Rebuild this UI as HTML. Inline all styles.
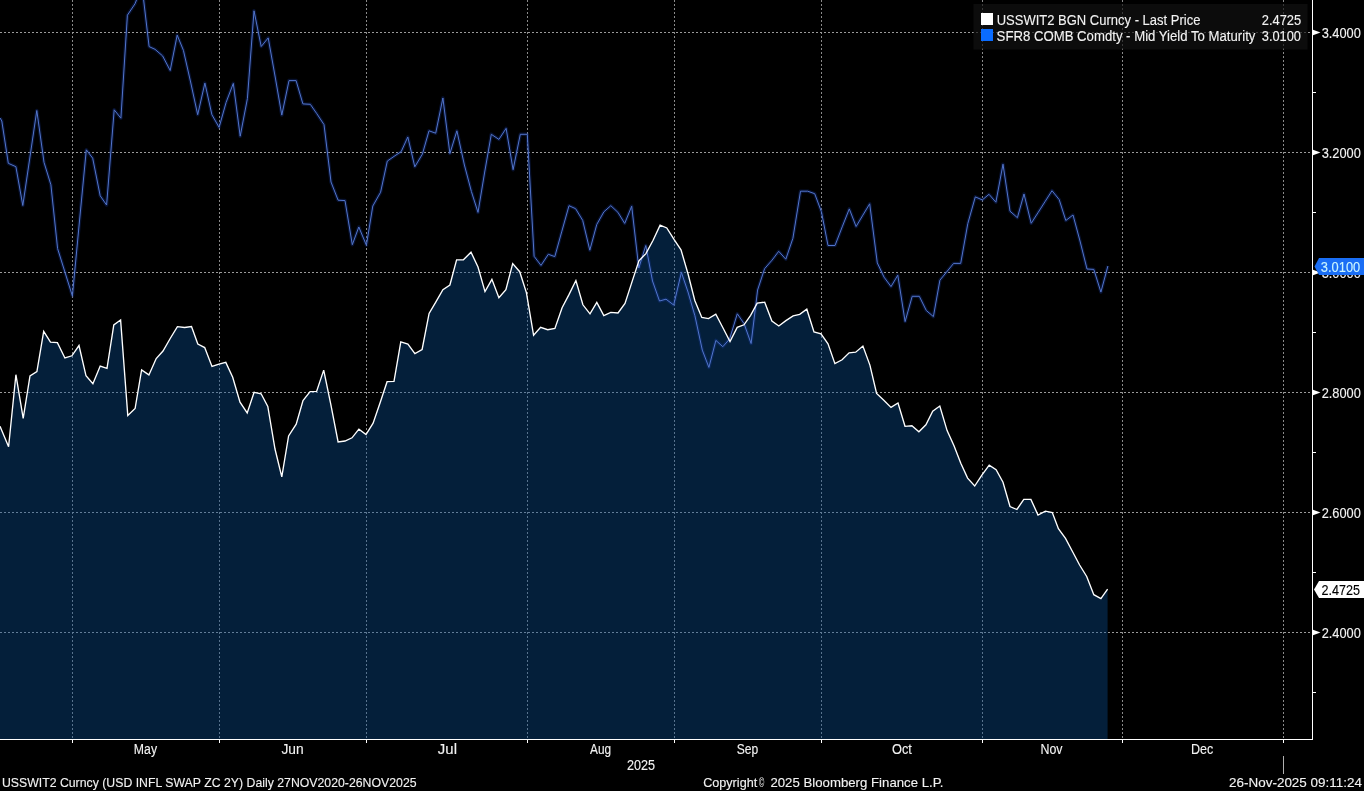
<!DOCTYPE html>
<html><head><meta charset="utf-8"><title>USSWIT2 vs SFR8 chart</title>
<style>
html,body{margin:0;padding:0;background:#000;width:1364px;height:791px;overflow:hidden;font-family:"Liberation Sans",sans-serif;}
svg{display:block;position:absolute;left:0;top:0;will-change:transform;}
</style></head><body>
<svg width="1364" height="791" viewBox="0 0 1364 791"><g stroke-width="1" stroke-dasharray="2 2" shape-rendering="crispEdges"><line x1="72.5" y1="0" x2="72.5" y2="739" stroke="#8a8a8a"/><line x1="219.5" y1="0" x2="219.5" y2="739" stroke="#8a8a8a"/><line x1="366.5" y1="0" x2="366.5" y2="739" stroke="#8a8a8a"/><line x1="527.5" y1="0" x2="527.5" y2="739" stroke="#8a8a8a"/><line x1="674.5" y1="0" x2="674.5" y2="739" stroke="#8a8a8a"/><line x1="821.5" y1="0" x2="821.5" y2="739" stroke="#8a8a8a"/><line x1="982.5" y1="0" x2="982.5" y2="739" stroke="#8a8a8a"/><line x1="1122.5" y1="0" x2="1122.5" y2="739" stroke="#8a8a8a"/><line x1="1283.5" y1="0" x2="1283.5" y2="739" stroke="#8a8a8a"/><line x1="0" y1="32.5" x2="1312" y2="32.5" stroke="#9a9a9a"/><line x1="0" y1="152.5" x2="1312" y2="152.5" stroke="#9a9a9a"/><line x1="0" y1="272.5" x2="1312" y2="272.5" stroke="#9a9a9a"/><line x1="0" y1="392.5" x2="1312" y2="392.5" stroke="#9a9a9a"/><line x1="0" y1="512.5" x2="1312" y2="512.5" stroke="#9a9a9a"/><line x1="0" y1="632.5" x2="1312" y2="632.5" stroke="#9a9a9a"/></g><path d="M0,426.3 L8.6,446.8 L15.9,374.7 L23.2,418.4 L30,375.8 L36.9,371.7 L43.7,331.4 L50.5,342.1 L57.4,342.6 L64.9,358 L71.9,355.8 L79,345.5 L86,375.8 L92.9,383.8 L100.2,366 L107,368.3 L113.8,325 L120.6,320 L127.8,415.5 L135.1,408.5 L141.6,369.9 L148.9,374.9 L156.2,358.5 L163,351 L170.2,338.5 L177.4,326.6 L184.6,327.5 L191.5,326.6 L197.8,344.1 L204.7,347.6 L212,366.5 L219,364.2 L225.8,362.4 L232.7,377.2 L240,402.2 L247.2,412.9 L254.1,392.4 L261.1,393.8 L267.8,406.5 L275,449 L281.8,476.9 L288.6,436 L296.2,424.2 L303,400.6 L310.1,391.6 L316.6,391.4 L323.7,370.1 L330.8,404.3 L338.1,441.9 L345,441 L352,437.8 L358.9,429.2 L366,434.6 L373.1,423.2 L380.1,402.7 L387.1,381.7 L394,381.3 L400.8,341.9 L407.9,344.1 L414.9,353.6 L422.1,349.5 L429.1,313.4 L436.2,301.4 L442.9,289.7 L449.9,285 L456.6,259.8 L463.4,259.8 L471,252.2 L478,267 L485,291.6 L491.9,279.3 L498.9,297.7 L505.9,289.7 L512.7,263.6 L519.7,271.7 L526.4,292.6 L533.6,335.3 L540.6,327.3 L547.7,329.7 L554.9,328.5 L562.1,307.7 L569.1,294.4 L575.9,280.5 L582.9,304.8 L590,313.9 L596.8,302.4 L603.8,315.6 L610.8,312.4 L618,313 L625,303.5 L632,281.9 L638.9,260.8 L645.9,253.6 L653.1,240.3 L660.1,225.2 L666.8,228 L674,239.4 L681,249.8 L688.2,274.5 L694.8,300.5 L701.8,317.5 L708.5,318.6 L715.8,314.2 L722.9,327.8 L730,341.5 L737.2,327.4 L744,324.8 L750.6,315.3 L757.2,303.2 L764.7,302.2 L771.9,321 L778.8,326 L785.9,320.6 L793.1,315.9 L799.7,314.3 L806.8,309.2 L814,332 L821,333.9 L828,343.8 L834.9,363.6 L842.1,359.8 L849.1,352.8 L855.7,352.2 L862.9,346.1 L869.9,365.1 L876.6,393.5 L883.8,400.2 L891,407.4 L898,403 L905,426.3 L911.9,425.8 L918.9,431.8 L925.9,424.8 L932.7,411.2 L939.8,406 L947.1,430.6 L954,445.8 L960.8,463.3 L967.6,478.1 L974.7,486 L981.7,475.4 L989.2,465.1 L996.1,469.6 L1003,482.2 L1010,506.5 L1016.9,509.5 L1023.8,499.4 L1030.9,499.4 L1038,515 L1045.4,511.2 L1052.3,512.6 L1058.4,528.7 L1065.5,538.4 L1072.6,551.7 L1079.6,565 L1086.7,576.5 L1093.8,594.7 L1100.9,598.6 L1107.6,589.2 L1107.6,739 L0,739 Z" fill="rgba(10,80,150,0.39)"/><rect x="973.5" y="4" width="334" height="45.5" fill="rgba(18,18,18,0.68)"/><rect x="981" y="13" width="12" height="12" fill="#ffffff"/><rect x="981" y="29" width="12" height="12" fill="#0a6cff"/><path d="M0,117.9 L1.8,121 L8.3,163.3 L15.9,166.7 L22.8,205.5 L29.8,158 L36.8,110.5 L44,162.3 L50.9,184.8 L57.6,248.6 L64.9,272 L72.4,296 L79.3,223 L86.3,149.8 L92.7,158.2 L100.2,195.8 L106.6,205 L114.2,109.8 L120.9,118.2 L127.4,15.2 L135,3.8 L142,-14 L149.1,46.6 L155,49.3 L162.6,55.9 L170.2,70.5 L177.2,35.1 L183.4,50.3 L190.6,82 L197.7,114.7 L204.9,83.1 L211.9,114.7 L219.1,127.4 L226.1,102.4 L233.3,83.4 L240.2,136.2 L247.4,98.6 L254,10.8 L261.2,46.5 L268.2,37.9 L275.2,77 L281.8,115.1 L289,80.6 L296.1,80.6 L302.9,103.9 L310.3,104.3 L316.9,113.8 L324,124.6 L331,182 L338.1,200.2 L345,200.6 L352.3,244.7 L358.8,227 L366.4,245.2 L372.8,206 L380.6,192.2 L387.3,161.1 L394,156.4 L401.2,151.6 L407.8,137 L414.8,166.8 L422.4,154.1 L429,130.8 L435.7,133.2 L442.9,98 L449.9,153.5 L456.9,130.8 L464.4,165 L471.4,191.5 L478,212.4 L484.7,172 L491.3,134.3 L498.9,139.4 L506.1,128.4 L513.1,169.7 L520.3,134.3 L527.3,134.3 L534.1,256.3 L541,265.4 L548.3,254.3 L554.8,256.6 L561.9,231.1 L569,205.7 L575.6,208.7 L582.7,220.4 L589.8,250.2 L596.8,224.4 L603.9,211.8 L610.8,205.7 L617.9,212.3 L624.7,223.4 L631.7,206.2 L638.8,268 L645.8,245.5 L652.5,281 L659.5,301 L666,299.2 L673.7,305 L681.4,272.4 L688,292 L694.9,315.7 L702.3,350.1 L708.9,367.4 L715.9,340.4 L722.8,346.7 L729.6,339 L737.3,313.8 L744,323.5 L751.1,343.5 L757.6,290 L764.6,268.7 L772.1,260.1 L778.7,251.3 L785.8,259.2 L792.9,238.3 L800.5,191.2 L807.7,191.2 L814.7,193.7 L821.4,211.7 L828,245.5 L835,245.5 L842.2,226.9 L849.3,208.9 L856.1,226.5 L862.9,215.1 L869.7,203.8 L877.3,262.9 L884,277.1 L891,286.6 L897.8,275.2 L905.1,321.6 L912.2,296.3 L919.3,296.3 L926.3,310.5 L933.4,316.6 L939.9,280.2 L946.5,272.1 L953.6,263.4 L960.7,263.4 L967.8,223.6 L975.3,196.9 L982.3,199.9 L989,194.3 L995.9,202.2 L1003,164.2 L1010,211.2 L1017.4,217.7 L1024,194 L1031.2,223.3 L1038.3,212.2 L1045.3,201.2 L1052,190.7 L1059.2,199.6 L1065.8,220.5 L1073,215 L1080,241 L1087,269 L1093.8,269.4 L1100.9,292.1 L1107.9,266" fill="none" stroke="rgba(25,60,170,0.28)" stroke-width="3.5" stroke-linejoin="round"/><path d="M0,117.9 L1.8,121 L8.3,163.3 L15.9,166.7 L22.8,205.5 L29.8,158 L36.8,110.5 L44,162.3 L50.9,184.8 L57.6,248.6 L64.9,272 L72.4,296 L79.3,223 L86.3,149.8 L92.7,158.2 L100.2,195.8 L106.6,205 L114.2,109.8 L120.9,118.2 L127.4,15.2 L135,3.8 L142,-14 L149.1,46.6 L155,49.3 L162.6,55.9 L170.2,70.5 L177.2,35.1 L183.4,50.3 L190.6,82 L197.7,114.7 L204.9,83.1 L211.9,114.7 L219.1,127.4 L226.1,102.4 L233.3,83.4 L240.2,136.2 L247.4,98.6 L254,10.8 L261.2,46.5 L268.2,37.9 L275.2,77 L281.8,115.1 L289,80.6 L296.1,80.6 L302.9,103.9 L310.3,104.3 L316.9,113.8 L324,124.6 L331,182 L338.1,200.2 L345,200.6 L352.3,244.7 L358.8,227 L366.4,245.2 L372.8,206 L380.6,192.2 L387.3,161.1 L394,156.4 L401.2,151.6 L407.8,137 L414.8,166.8 L422.4,154.1 L429,130.8 L435.7,133.2 L442.9,98 L449.9,153.5 L456.9,130.8 L464.4,165 L471.4,191.5 L478,212.4 L484.7,172 L491.3,134.3 L498.9,139.4 L506.1,128.4 L513.1,169.7 L520.3,134.3 L527.3,134.3 L534.1,256.3 L541,265.4 L548.3,254.3 L554.8,256.6 L561.9,231.1 L569,205.7 L575.6,208.7 L582.7,220.4 L589.8,250.2 L596.8,224.4 L603.9,211.8 L610.8,205.7 L617.9,212.3 L624.7,223.4 L631.7,206.2 L638.8,268 L645.8,245.5 L652.5,281 L659.5,301 L666,299.2 L673.7,305 L681.4,272.4 L688,292 L694.9,315.7 L702.3,350.1 L708.9,367.4 L715.9,340.4 L722.8,346.7 L729.6,339 L737.3,313.8 L744,323.5 L751.1,343.5 L757.6,290 L764.6,268.7 L772.1,260.1 L778.7,251.3 L785.8,259.2 L792.9,238.3 L800.5,191.2 L807.7,191.2 L814.7,193.7 L821.4,211.7 L828,245.5 L835,245.5 L842.2,226.9 L849.3,208.9 L856.1,226.5 L862.9,215.1 L869.7,203.8 L877.3,262.9 L884,277.1 L891,286.6 L897.8,275.2 L905.1,321.6 L912.2,296.3 L919.3,296.3 L926.3,310.5 L933.4,316.6 L939.9,280.2 L946.5,272.1 L953.6,263.4 L960.7,263.4 L967.8,223.6 L975.3,196.9 L982.3,199.9 L989,194.3 L995.9,202.2 L1003,164.2 L1010,211.2 L1017.4,217.7 L1024,194 L1031.2,223.3 L1038.3,212.2 L1045.3,201.2 L1052,190.7 L1059.2,199.6 L1065.8,220.5 L1073,215 L1080,241 L1087,269 L1093.8,269.4 L1100.9,292.1 L1107.9,266" fill="none" stroke="#5275cc" stroke-width="1.0" stroke-linejoin="miter" stroke-miterlimit="3"/><path d="M0,426.3 L8.6,446.8 L15.9,374.7 L23.2,418.4 L30,375.8 L36.9,371.7 L43.7,331.4 L50.5,342.1 L57.4,342.6 L64.9,358 L71.9,355.8 L79,345.5 L86,375.8 L92.9,383.8 L100.2,366 L107,368.3 L113.8,325 L120.6,320 L127.8,415.5 L135.1,408.5 L141.6,369.9 L148.9,374.9 L156.2,358.5 L163,351 L170.2,338.5 L177.4,326.6 L184.6,327.5 L191.5,326.6 L197.8,344.1 L204.7,347.6 L212,366.5 L219,364.2 L225.8,362.4 L232.7,377.2 L240,402.2 L247.2,412.9 L254.1,392.4 L261.1,393.8 L267.8,406.5 L275,449 L281.8,476.9 L288.6,436 L296.2,424.2 L303,400.6 L310.1,391.6 L316.6,391.4 L323.7,370.1 L330.8,404.3 L338.1,441.9 L345,441 L352,437.8 L358.9,429.2 L366,434.6 L373.1,423.2 L380.1,402.7 L387.1,381.7 L394,381.3 L400.8,341.9 L407.9,344.1 L414.9,353.6 L422.1,349.5 L429.1,313.4 L436.2,301.4 L442.9,289.7 L449.9,285 L456.6,259.8 L463.4,259.8 L471,252.2 L478,267 L485,291.6 L491.9,279.3 L498.9,297.7 L505.9,289.7 L512.7,263.6 L519.7,271.7 L526.4,292.6 L533.6,335.3 L540.6,327.3 L547.7,329.7 L554.9,328.5 L562.1,307.7 L569.1,294.4 L575.9,280.5 L582.9,304.8 L590,313.9 L596.8,302.4 L603.8,315.6 L610.8,312.4 L618,313 L625,303.5 L632,281.9 L638.9,260.8 L645.9,253.6 L653.1,240.3 L660.1,225.2 L666.8,228 L674,239.4 L681,249.8 L688.2,274.5 L694.8,300.5 L701.8,317.5 L708.5,318.6 L715.8,314.2 L722.9,327.8 L730,341.5 L737.2,327.4 L744,324.8 L750.6,315.3 L757.2,303.2 L764.7,302.2 L771.9,321 L778.8,326 L785.9,320.6 L793.1,315.9 L799.7,314.3 L806.8,309.2 L814,332 L821,333.9 L828,343.8 L834.9,363.6 L842.1,359.8 L849.1,352.8 L855.7,352.2 L862.9,346.1 L869.9,365.1 L876.6,393.5 L883.8,400.2 L891,407.4 L898,403 L905,426.3 L911.9,425.8 L918.9,431.8 L925.9,424.8 L932.7,411.2 L939.8,406 L947.1,430.6 L954,445.8 L960.8,463.3 L967.6,478.1 L974.7,486 L981.7,475.4 L989.2,465.1 L996.1,469.6 L1003,482.2 L1010,506.5 L1016.9,509.5 L1023.8,499.4 L1030.9,499.4 L1038,515 L1045.4,511.2 L1052.3,512.6 L1058.4,528.7 L1065.5,538.4 L1072.6,551.7 L1079.6,565 L1086.7,576.5 L1093.8,594.7 L1100.9,598.6 L1107.6,589.2" fill="none" stroke="#ffffff" stroke-width="1.35" stroke-linejoin="miter" stroke-miterlimit="3"/><g fill="#ffffff" shape-rendering="crispEdges"><rect x="1312" y="0" width="1" height="740"/><rect x="0" y="739" width="1313" height="1"/><rect x="72" y="740" width="1" height="3"/><rect x="219" y="740" width="1" height="3"/><rect x="366" y="740" width="1" height="3"/><rect x="527" y="740" width="1" height="3"/><rect x="674" y="740" width="1" height="3"/><rect x="821" y="740" width="1" height="3"/><rect x="982" y="740" width="1" height="3"/><rect x="1122" y="740" width="1" height="3"/><rect x="1283" y="740" width="1" height="3"/><rect x="1313" y="92" width="3" height="1"/><rect x="1313" y="212" width="3" height="1"/><rect x="1313" y="332" width="3" height="1"/><rect x="1313" y="452" width="3" height="1"/><rect x="1313" y="572" width="3" height="1"/><rect x="1313" y="692" width="3" height="1"/></g><polygon points="1313,29.7 1320.5,32.5 1313,35.3" fill="#ffffff"/><polygon points="1313,149.7 1320.5,152.5 1313,155.3" fill="#ffffff"/><polygon points="1313,269.7 1320.5,272.5 1313,275.3" fill="#ffffff"/><polygon points="1313,389.7 1320.5,392.5 1313,395.3" fill="#ffffff"/><polygon points="1313,509.7 1320.5,512.5 1313,515.3" fill="#ffffff"/><polygon points="1313,629.7 1320.5,632.5 1313,635.3" fill="#ffffff"/><rect x="1283" y="756" width="1" height="18" fill="#b0b0b0" shape-rendering="crispEdges"/><g font-family="Liberation Sans, sans-serif"><text x="1321.66" y="38" font-size="14" fill="#f2f2f2" stroke="#f2f2f2" stroke-width="0.12" textLength="39.22" lengthAdjust="spacingAndGlyphs">3.4000</text><text x="1321.66" y="158" font-size="14" fill="#f2f2f2" stroke="#f2f2f2" stroke-width="0.12" textLength="39.22" lengthAdjust="spacingAndGlyphs">3.2000</text><text x="1321.66" y="278" font-size="14" fill="#f2f2f2" stroke="#f2f2f2" stroke-width="0.12" textLength="39.22" lengthAdjust="spacingAndGlyphs">3.0000</text><text x="1321.66" y="398" font-size="14" fill="#f2f2f2" stroke="#f2f2f2" stroke-width="0.12" textLength="39.22" lengthAdjust="spacingAndGlyphs">2.8000</text><text x="1321.66" y="518" font-size="14" fill="#f2f2f2" stroke="#f2f2f2" stroke-width="0.12" textLength="39.22" lengthAdjust="spacingAndGlyphs">2.6000</text><text x="1321.66" y="638" font-size="14" fill="#f2f2f2" stroke="#f2f2f2" stroke-width="0.12" textLength="39.22" lengthAdjust="spacingAndGlyphs">2.4000</text><text x="133.86" y="754" font-size="14" fill="#f2f2f2" stroke="#f2f2f2" stroke-width="0.12" textLength="23.18" lengthAdjust="spacingAndGlyphs">May</text><text x="281.41" y="754" font-size="14" fill="#f2f2f2" stroke="#f2f2f2" stroke-width="0.12" textLength="22.23" lengthAdjust="spacingAndGlyphs">Jun</text><text x="437.86" y="754" font-size="14" fill="#f2f2f2" stroke="#f2f2f2" stroke-width="0.12" textLength="19.13" lengthAdjust="spacingAndGlyphs">Jul</text><text x="590.08" y="754" font-size="14" fill="#f2f2f2" stroke="#f2f2f2" stroke-width="0.12" textLength="21.05" lengthAdjust="spacingAndGlyphs">Aug</text><text x="736.69" y="754" font-size="14" fill="#f2f2f2" stroke="#f2f2f2" stroke-width="0.12" textLength="21.45" lengthAdjust="spacingAndGlyphs">Sep</text><text x="891.97" y="754" font-size="14" fill="#f2f2f2" stroke="#f2f2f2" stroke-width="0.12" textLength="19.92" lengthAdjust="spacingAndGlyphs">Oct</text><text x="1040.45" y="754" font-size="14" fill="#f2f2f2" stroke="#f2f2f2" stroke-width="0.12" textLength="22.08" lengthAdjust="spacingAndGlyphs">Nov</text><text x="1191.04" y="754" font-size="14" fill="#f2f2f2" stroke="#f2f2f2" stroke-width="0.12" textLength="22.33" lengthAdjust="spacingAndGlyphs">Dec</text><text x="627.07" y="770" font-size="14" fill="#f2f2f2" stroke="#f2f2f2" stroke-width="0.12" textLength="28.09" lengthAdjust="spacingAndGlyphs">2025</text><text x="1.90" y="787" font-size="13" fill="#f2f2f2" stroke="#f2f2f2" stroke-width="0.12" textLength="414.68" lengthAdjust="spacingAndGlyphs">USSWIT2 Curncy (USD INFL SWAP ZC 2Y) Daily 27NOV2020-26NOV2025</text><text x="703.14" y="787" font-size="13" fill="#f2f2f2" stroke="#f2f2f2" stroke-width="0.12" textLength="54.08" lengthAdjust="spacingAndGlyphs">Copyright</text><text x="758.93" y="787" font-size="12" fill="#d8d8d8" stroke="#d8d8d8" stroke-width="0.12" textLength="5.24" lengthAdjust="spacingAndGlyphs">©</text><text x="770.43" y="787" font-size="13" fill="#f2f2f2" stroke="#f2f2f2" stroke-width="0.12" textLength="173.07" lengthAdjust="spacingAndGlyphs">2025 Bloomberg Finance L.P.</text><text x="1229.12" y="787" font-size="13" fill="#f2f2f2" stroke="#f2f2f2" stroke-width="0.12" textLength="132.76" lengthAdjust="spacingAndGlyphs">26-Nov-2025 09:11:24</text><text x="996.66" y="25" font-size="14" fill="#f2f2f2" stroke="#f2f2f2" stroke-width="0.12" textLength="203.75" lengthAdjust="spacingAndGlyphs">USSWIT2 BGN Curncy - Last Price</text><text x="996.61" y="41" font-size="14" fill="#f2f2f2" stroke="#f2f2f2" stroke-width="0.12" textLength="258.81" lengthAdjust="spacingAndGlyphs">SFR8 COMB Comdty - Mid Yield To Maturity</text><text x="1261.76" y="25" font-size="14" fill="#f2f2f2" stroke="#f2f2f2" stroke-width="0.12" textLength="39.45" lengthAdjust="spacingAndGlyphs">2.4725</text><text x="1261.76" y="41" font-size="14" fill="#f2f2f2" stroke="#f2f2f2" stroke-width="0.12" textLength="39.22" lengthAdjust="spacingAndGlyphs">3.0100</text><polygon points="1314.5,266.5 1319,258 1364,258 1364,275 1319,275" fill="#1a6ef5"/><text x="1320.86" y="272" font-size="14" fill="#c8f4ff" stroke="#c8f4ff" stroke-width="0.12" textLength="39.33" lengthAdjust="spacingAndGlyphs">3.0100</text><polygon points="1314,589.5 1319,581 1364,581 1364,598 1319,598" fill="#ffffff"/><text x="1321.38" y="595" font-size="14" fill="#000000" stroke="#000000" stroke-width="0.12" textLength="38.52" lengthAdjust="spacingAndGlyphs">2.4725</text></g></svg>
</body></html>
